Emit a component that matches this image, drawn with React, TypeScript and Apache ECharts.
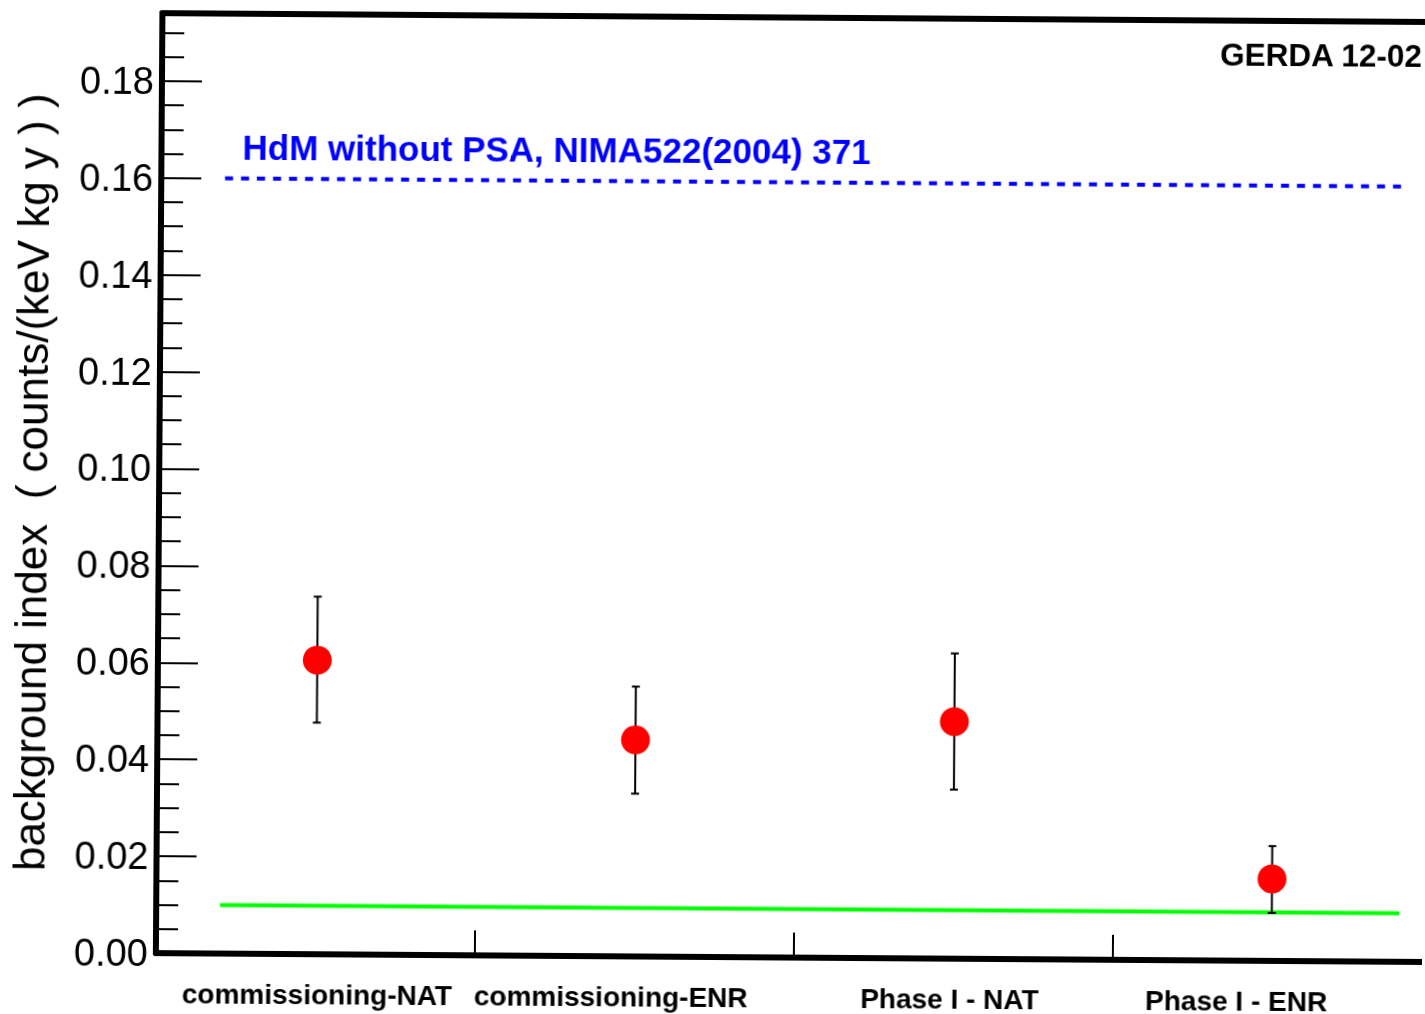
import React, { useEffect, useRef } from "react";
import * as echarts from "echarts";

const categories = ["commissioning-NAT", "commissioning-ENR", "Phase I - NAT", "Phase I - ENR"];
const bgIndex = [0.0607, 0.0447, 0.0489, 0.0169];
const errUpper = [0.0738, 0.0557, 0.063, 0.0237];
const errLower = [0.0478, 0.0336, 0.0349, 0.0099];
const hdmLevel = 0.16;
const greenLevel = 0.01;
const refLineRange = [0.2, 3.9];
const yTicks = [0, 0.02, 0.04, 0.06, 0.08, 0.1, 0.12, 0.14, 0.16, 0.18];
const hdmLabel = "HdM without PSA, NIMA522(2004) 371";
const tagLabel = "GERDA 12-02";
const yName = "background index  ( counts/(keV kg y ) )";

const FONT = "'Liberation Sans', Arial, Helvetica, sans-serif";

export default function App() {
  const ref = useRef<HTMLDivElement>(null);
  useEffect(() => {
    if (!ref.current) return;
    const chart = echarts.init(ref.current, undefined, { renderer: "svg" });
    const yMax = 0.194;
    const xPos = categories.map((_, i) => i + 0.5);
    const labelShift: Record<string, string> = {
      [categories[0]]: "a",
      [categories[1]]: "b",
      [categories[2]]: "c",
      [categories[3]]: "d",
    };
    const labelStyle = { fontFamily: FONT, fontWeight: "bold" as const, fontSize: 28, color: "#000" };
    const option: any = {
      animation: false,
      backgroundColor: "#fff",
      grid: {
        left: 159,
        top: 17,
        width: 1275,
        height: 940,
        containLabel: false,
        outerBoundsMode: "none",
      },
      xAxis: [
        {
          type: "value",
          min: 0,
          max: 4,
          interval: 1,
          position: "bottom",
          axisLine: { show: true, onZero: false, lineStyle: { color: "#000", width: 6 } },
          axisTick: { show: true, inside: true, length: 25, lineStyle: { color: "#000", width: 2 } },
          axisLabel: { show: false },
          splitLine: { show: false },
        },
        {
          type: "category",
          data: categories,
          position: "bottom",
          boundaryGap: true,
          axisLine: { show: false },
          axisTick: { show: false },
          splitLine: { show: false },
          axisLabel: {
            margin: 26,
            interval: 0,
            formatter: (v: string) => `{${labelShift[v]}|${v}}`,
            rich: {
              a: { ...labelStyle, padding: [0, 0, 0, 4] },
              b: { ...labelStyle, padding: [0, 46, 0, 0] },
              c: { ...labelStyle, padding: [0, 6, 0, 0] },
              d: { ...labelStyle, padding: [0, 70, 0, 0] },
            },
          },
        },
        {
          type: "value",
          min: 0,
          max: 4,
          position: "top",
          axisLine: { show: true, onZero: false, lineStyle: { color: "#000", width: 6 } },
          axisTick: { show: false },
          axisLabel: { show: false },
          splitLine: { show: false },
        },
      ],
      yAxis: [
        {
          type: "value",
          min: 0,
          max: yMax,
          interval: 0.02,
          position: "left",
          name: yName,
          nameLocation: "middle",
          nameRotate: 90,
          nameGap: 106,
          nameTextStyle: { fontFamily: FONT, fontSize: 44, color: "#000" },
          axisLine: { show: true, onZero: false, lineStyle: { color: "#000", width: 6 } },
          axisTick: { show: true, inside: true, length: 40, lineStyle: { color: "#000", width: 2 } },
          axisLabel: {
            margin: 8,
            fontFamily: FONT,
            fontSize: 38,
            color: "#000",
            showMaxLabel: false,
            formatter: (v: number) => {
              const k = v / 0.02;
              return Math.abs(k - Math.round(k)) < 1e-6 && yTicks.some((t) => Math.abs(t - v) < 1e-9)
                ? v.toFixed(2)
                : "";
            },
          },
          splitLine: { show: false },
        },
        {
          type: "value",
          min: 0,
          max: yMax,
          interval: 0.005,
          position: "left",
          axisLine: { show: false },
          axisTick: { show: true, inside: true, length: 22, lineStyle: { color: "#000", width: 2 } },
          axisLabel: { show: false },
          splitLine: { show: false },
        },
      ],
      series: [
        {
          type: "line",
          xAxisIndex: 0,
          yAxisIndex: 0,
          data: [
            [refLineRange[0], greenLevel],
            [refLineRange[1], greenLevel],
          ],
          symbol: "none",
          lineStyle: { color: "#00ff00", width: 4 },
          z: 2,
        },
        {
          type: "line",
          xAxisIndex: 0,
          yAxisIndex: 0,
          data: [
            [refLineRange[0], hdmLevel],
            [refLineRange[1], hdmLevel],
          ],
          symbol: "none",
          lineStyle: { color: "#0000ff", width: 4, type: [8, 8] },
          z: 2,
        },
        {
          type: "custom",
          xAxisIndex: 0,
          yAxisIndex: 0,
          data: xPos.map((x, i) => [x, errLower[i], errUpper[i]]),
          encode: { x: 0, y: [1, 2] },
          z: 3,
          renderItem: (params: any, api: any) => {
            const x = api.value(0);
            const pLo = api.coord([x, api.value(1)]);
            const pHi = api.coord([x, api.value(2)]);
            const w = 4;
            const st = { stroke: "#000", lineWidth: 2 };
            return {
              type: "group",
              children: [
                { type: "line", shape: { x1: pLo[0], y1: pLo[1], x2: pHi[0], y2: pHi[1] }, style: st },
                { type: "line", shape: { x1: pLo[0] - w, y1: pLo[1], x2: pLo[0] + w, y2: pLo[1] }, style: st },
                { type: "line", shape: { x1: pHi[0] - w, y1: pHi[1], x2: pHi[0] + w, y2: pHi[1] }, style: st },
              ],
            };
          },
        },
        {
          type: "scatter",
          xAxisIndex: 0,
          yAxisIndex: 0,
          data: xPos.map((x, i) => [x, bgIndex[i]]),
          symbol: "circle",
          symbolSize: 29,
          itemStyle: { color: "#ff0000", opacity: 1 },
          z: 4,
        },
      ],
      graphic: [
        {
          type: "text",
          left: 240,
          top: 153 - 20,
          style: {
            text: hdmLabel,
            fontFamily: FONT,
            fontWeight: "bold",
            fontSize: 35,
            fill: "#0000ff",
          },
        },
        {
          type: "text",
          right: 1425 - 1420,
          top: 53 - 18,
          style: {
            text: tagLabel,
            fontFamily: FONT,
            fontWeight: "bold",
            fontSize: 31.5,
            fill: "#000",
          },
        },
      ],
    };
    chart.setOption(option);
    return () => chart.dispose();
  }, []);
  return (
    <div
      ref={ref}
      style={{
        position: "fixed",
        left: 0,
        top: 0,
        width: 1425,
        height: 1014,
        transform: "rotate(0.4deg)",
        transformOrigin: "712.5px 507px",
        background: "#fff",
      }}
    />
  );
}
